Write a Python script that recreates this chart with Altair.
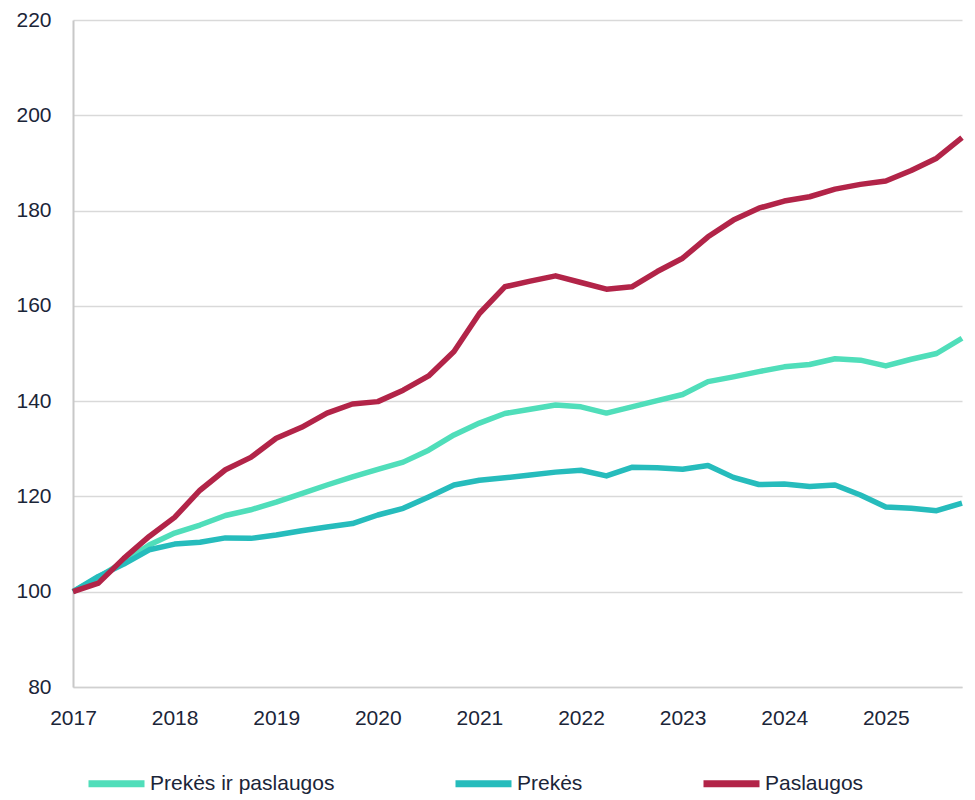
import altair as alt
import pandas as pd

years = ["2017", "2018", "2019", "2020", "2021", "2022", "2023", "2024", "2025"]
series_names = ["Prekės ir paslaugos", "Prekės", "Paslaugos"]
colors = ["#50DEBA", "#26BCBC", "#B22448"]

# Quarterly index values, 2017 Q1 = 100 (2017 Q1 .. 2025 Q4)
prekes_ir_paslaugos = [
    100.0, 103.0, 106.3, 109.8, 112.3, 114.0, 116.0, 117.2, 118.8, 120.6,
    122.4, 124.1, 125.7, 127.2, 129.7, 132.9, 135.4, 137.4, 138.3, 139.2,
    138.8, 137.5, 138.8, 140.1, 141.4, 144.1, 145.1, 146.2, 147.2, 147.7,
    148.9, 148.6, 147.4, 148.8, 150.0, 153.2,
]
prekes = [
    100.0, 103.2, 105.8, 108.8, 110.0, 110.4, 111.3, 111.2, 111.9, 112.8,
    113.6, 114.3, 116.1, 117.5, 119.9, 122.4, 123.4, 123.9, 124.5, 125.1,
    125.5, 124.3, 126.1, 126.0, 125.7, 126.5, 124.0, 122.5, 122.6, 122.1,
    122.4, 120.3, 117.8, 117.5, 117.0, 118.6,
]
paslaugos = [
    100.0, 101.8, 107.0, 111.6, 115.6, 121.3, 125.6, 128.2, 132.2, 134.5,
    137.5, 139.4, 139.9, 142.3, 145.3, 150.4, 158.4, 164.0, 165.2, 166.3,
    164.9, 163.5, 164.0, 167.2, 170.0, 174.5, 178.0, 180.5, 182.0, 182.9,
    184.5, 185.5, 186.2, 188.4, 191.0, 195.3,
]

rows = []
for name, vals in zip(series_names, [prekes_ir_paslaugos, prekes, paslaugos]):
    for i, v in enumerate(vals):
        rows.append({"q": i, "value": v, "series": name})
df = pd.DataFrame(rows)

year_ticks = [i * 4 for i in range(len(years))]
label_expr = "[" + ",".join(f"'{y}'" for y in years) + "][datum.value / 4]"

font = "Liberation Sans"
text_color = "#1B2538"

chart = (
    alt.Chart(df)
    .mark_line(strokeWidth=5.5, strokeJoin="round")
    .encode(
        x=alt.X(
            "q:Q",
            scale=alt.Scale(domain=[0, 35], nice=False, zero=False),
            axis=alt.Axis(
                values=year_ticks,
                labelExpr=label_expr,
                title=None,
                grid=False,
                ticks=False,
                domain=True,
                domainColor="#D0D0D0",
                domainWidth=1.5,
                labelPadding=20,
                labelFontSize=21,
                labelFont=font,
                labelColor=text_color,
                labelAlign="center",
            ),
        ),
        y=alt.Y(
            "value:Q",
            scale=alt.Scale(domain=[80, 220], nice=False, zero=False),
            axis=alt.Axis(
                values=[80, 100, 120, 140, 160, 180, 200, 220],
                title=None,
                grid=True,
                gridColor="#D9D9D9",
                gridWidth=1.3,
                ticks=False,
                domain=True,
                domainColor="#C8C8C8",
                domainWidth=2,
                labelPadding=22,
                labelFontSize=21,
                labelFont=font,
                labelColor=text_color,
            ),
        ),
        color=alt.Color(
            "series:N",
            scale=alt.Scale(domain=series_names, range=colors),
            sort=series_names,
            legend=alt.Legend(
                title=None,
                orient="none",
                direction="horizontal",
                legendX=12,
                legendY=732,
                padding=0,
                symbolType="stroke",
                symbolSize=3136,
                symbolStrokeWidth=7,
                labelFontSize=21,
                labelFont=font,
                labelColor=text_color,
                labelOffset=2,
                labelLimit=500,
                columnPadding=106,
            ),
        ),
    )
    .properties(
        width=889,
        height=667,
        autosize=alt.AutoSizeParams(type="none"),
        padding={"left": 65, "top": 12, "right": 5, "bottom": 110},
    )
    .configure_view(stroke=None)
)

chart.save("out.html", embed_options={"renderer": "svg", "actions": False})
